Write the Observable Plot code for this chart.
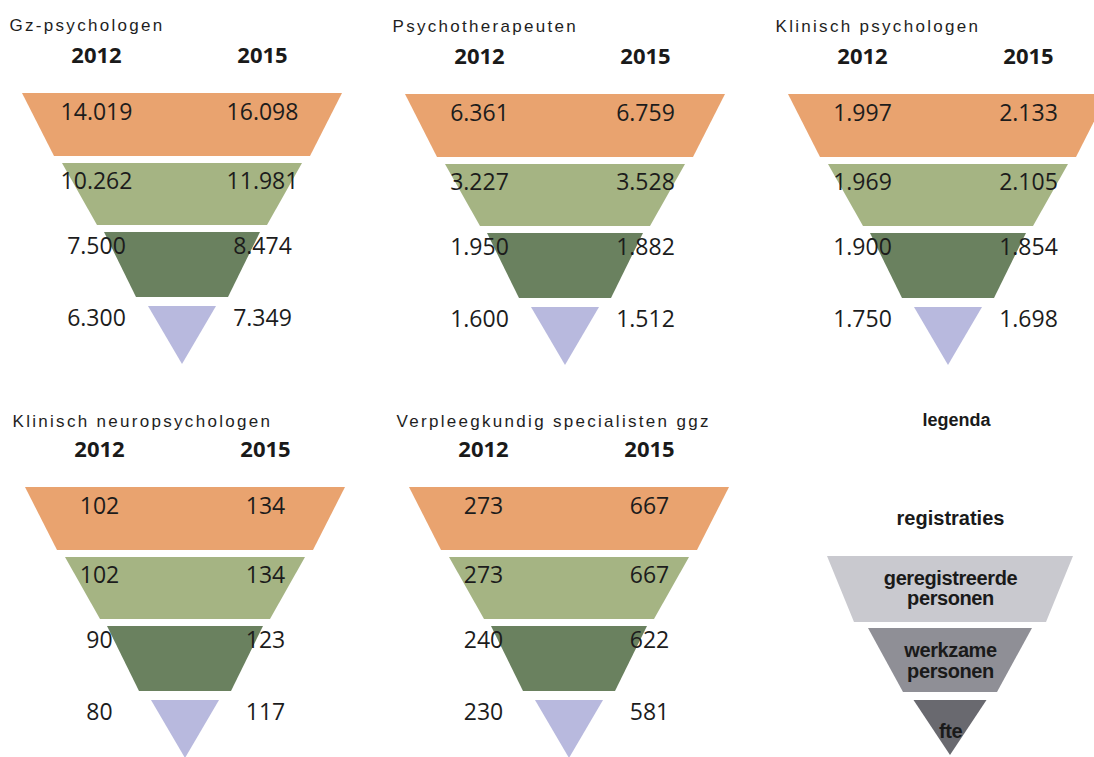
<!DOCTYPE html>
<html>
<head>
<meta charset="utf-8">
<script src="https://cdn.jsdelivr.net/npm/d3@7"></script>
<script src="https://cdn.jsdelivr.net/npm/@observablehq/plot@0.6"></script>
<style>
  html, body { margin: 0; padding: 0; background: #ffffff; }
  #chart svg { display: block; }
</style>
</head>
<body>
<div id="chart"></div>
<script>
// ---------- data ----------
const panels = [
  "Gz-psychologen",
  "Psychotherapeuten",
  "Klinisch psychologen",
  "Klinisch neuropsychologen",
  "Verpleegkundig specialisten ggz"
];
const years = ["2012", "2015"];
const levels = ["registraties", "geregistreerde personen", "werkzame personen", "fte"];
const values2012 = [
  [14019, 10262, 7500, 6300],
  [6361, 3227, 1950, 1600],
  [1997, 1969, 1900, 1750],
  [102, 102, 90, 80],
  [273, 273, 240, 230]
];
const values2015 = [
  [16098, 11981, 8474, 7349],
  [6759, 3528, 1882, 1512],
  [2133, 2105, 1854, 1698],
  [134, 134, 123, 117],
  [667, 667, 622, 581]
];
const legendTitle = "legenda";
const legendHeader = "registraties";
const legendLevels = ["geregistreerde personen", "werkzame personen", "fte"];
const legendLabels = [["geregistreerde", "personen"], ["werkzame", "personen"], ["fte"]];

// ---------- layout & style ----------
const W = 1094, H = 757;
const panelPos = [[182, 93], [565, 94], [948, 94], [185, 487], [569, 487]];
const bands = [
  {y0: 0,   y1: 63,  w0: 160, w1: 128},
  {y0: 70,  y1: 132, w0: 120, w1: 85},
  {y0: 139, y1: 204, w0: 78,  w1: 46},
  {y0: 213, y1: 271, w0: 34,  w1: 0}
];
const rowY = [19, 88, 153, 225];
const colX = [-86, 80];
const legendPos = [950, 556];
const legendBands = [
  {y0: 0,   y1: 66,  w0: 123,  w1: 96},
  {y0: 72,  y1: 136, w0: 82,   w1: 47},
  {y0: 144, y1: 199, w0: 36.5, w1: 0}
];
const legendLineY = [[22, 42], [94, 115], [175]];
const colors = ["#e9a36f", "#a5b483", "#6a815f", "#b8b9de"];
const legendColors = ["#c9c9cf", "#8f8f96", "#69696f"];

const fmt = d3.formatLocale({decimal: ",", thousands: ".", grouping: [3], currency: ["€", ""]}).format(",d");

// ---------- derived tables ----------
const shapes = [];
panels.forEach((p, i) => {
  const [cx, top] = panelPos[i];
  levels.forEach((lv, j) => {
    const b = bands[j], key = p + "|" + lv;
    shapes.push({key, band: lv, y: top + b.y0, x1: cx - b.w0, x2: cx + b.w0});
    shapes.push({key, band: lv, y: top + b.y1, x1: cx - b.w1, x2: cx + b.w1});
  });
});
legendLevels.forEach((lv, j) => {
  const [cx, top] = legendPos, b = legendBands[j], key = "legend|" + lv;
  shapes.push({key, band: "legend:" + lv, y: top + b.y0, x1: cx - b.w0, x2: cx + b.w0});
  shapes.push({key, band: "legend:" + lv, y: top + b.y1, x1: cx - b.w1, x2: cx + b.w1});
});

const titles = panels.map((p, i) => ({text: p, x: panelPos[i][0] - 173, y: panelPos[i][1] - (i < 3 ? 68 : 66)}));
const yearLabels = panels.flatMap((p, i) => years.map((yr, k) => ({text: yr, x: panelPos[i][0] + colX[k], y: panelPos[i][1] - 38})));
const valueLabels = panels.flatMap((p, i) => levels.flatMap((lv, j) =>
  [values2012[i][j], values2015[i][j]].map((v, k) => ({text: fmt(v), x: panelPos[i][0] + colX[k], y: panelPos[i][1] + rowY[j]}))
));
const legendHead = [
  {text: legendTitle, x: legendPos[0] + 6, y: legendPos[1] - 136, size: 18},
  {text: legendHeader, x: legendPos[0], y: legendPos[1] - 38, size: 20}
];
const legendText = legendLabels.flatMap((lines, j) => lines.map((t, k) => ({text: t, x: legendPos[0], y: legendPos[1] + legendLineY[j][k]})));

const svg = Plot.plot({
  width: W,
  height: H,
  margin: 0,
  x: {domain: [0, W], range: [0, W], axis: null},
  y: {domain: [0, H], range: [0, H], axis: null},
  color: {domain: [...levels, ...legendLevels.map(l => "legend:" + l)], range: [...colors, ...legendColors]},
  style: {background: "#ffffff"},
  marks: [
    Plot.areaX(shapes, {y: "y", x1: "x1", x2: "x2", z: "key", fill: "band", curve: "linear"}),
    Plot.text(titles, {x: "x", y: "y", text: "text", textAnchor: "start", fontSize: 17, fontFamily: "Liberation Sans", fill: "#1e1e1e"}),
    Plot.text(yearLabels, {x: "x", y: "y", text: "text", fontSize: 22, fontWeight: "bold", fontFamily: "Open Sans", fill: "#1a1a1a"}),
    Plot.text(valueLabels, {x: "x", y: "y", text: "text", fontSize: 23, fontFamily: "Open Sans", fill: "#1c1c1c"}),
    Plot.text(legendHead, {x: "x", y: "y", text: "text", fontSize: d => d.size, fontWeight: "bold", fontFamily: "Liberation Sans", fill: "#1a1a1a"}),
    Plot.text(legendText, {x: "x", y: "y", text: "text", fontSize: 20, fontWeight: "bold", fontFamily: "Liberation Sans", fill: "#1a1a1a"})
  ]
});

const sel = d3.select(svg).selectAll("text");
sel.filter(function() { return panels.includes(this.textContent); }).style("letter-spacing", "2.3px");
sel.filter(function() { return legendLabels.flat().includes(this.textContent); }).style("letter-spacing", "-0.4px");
document.getElementById("chart").appendChild(svg);
</script>
</body>
</html>
